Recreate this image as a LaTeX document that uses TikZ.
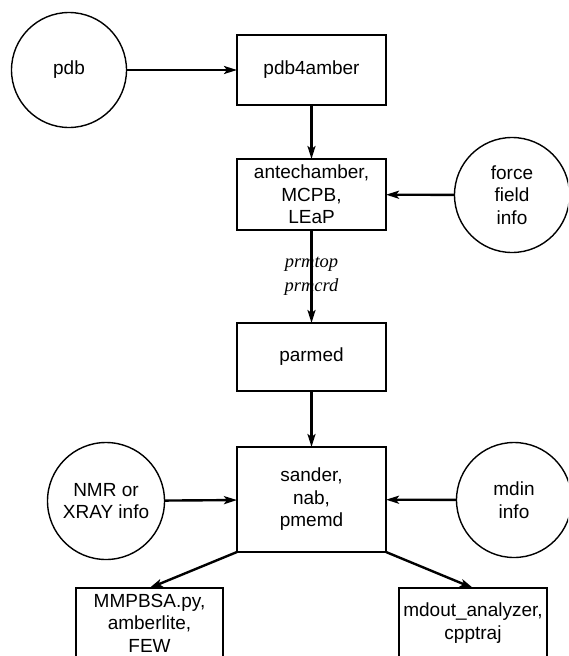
\documentclass[tikz,border=0pt]{standalone}
\usepackage{fontspec}
\setmainfont{Liberation Sans}
\newfontfamily\lblfont{Liberation Serif}
\usetikzlibrary{arrows.meta}

\begin{document}
\begin{tikzpicture}[x=1pt,y=-1pt,
  box/.style={shape=rectangle,draw=black,line width=2.8pt,minimum width=149pt,minimum height=70pt,inner sep=2pt,outer sep=0pt,align=center,font=\fontsize{19}{22.5}\selectfont},
  blob/.style={shape=circle,draw=black,line width=1.4pt,minimum size=115pt,inner sep=0pt,outer sep=0pt,align=center,font=\fontsize{19}{22.5}\selectfont},
  flow/.style={line width=2.4pt,-{Stealth[length=13pt,width=8pt,inset=3pt]}}]
\clip (0,0) rectangle (568,656);
\node[blob] (PDB) at (69,70) {pdb};
\node[box] (P4A) at (311.5,70) {pdb4amber};
\node[box,minimum height=71pt] (ANTE) at (311.5,194.5) {antechamber,\\MCPB,\\LEaP};
\node[blob] (FF) at (512,195) {force\\field\\info};
\node[box,minimum height=68pt] (PARM) at (311.5,357) {parmed};
\node[box,minimum height=105pt] (SAND) at (311.5,499.5) {sander,\\nab,\\pmemd};
\node[blob,minimum size=117pt] (NMR) at (106,501) {NMR or\\XRAY info};
\node[blob] (MDIN) at (514,500) {mdin\\info};
\node[box,minimum width=147pt] (MMPB) at (149.5,623) {MMPBSA.py,\\amberlite,\\FEW};
\node[box,minimum width=148pt] (MDOUT) at (473,623) {mdout\_analyzer,\\cpptraj};
\path [flow] (PDB) edge (P4A);
\path [flow] (P4A) edge (ANTE);
\path [flow] (FF) edge (ANTE);
\path [flow] (ANTE) edge node[font=\lblfont\itshape\fontsize{18.5}{24}\selectfont,align=center] {prmtop\\prmcrd} (PARM);
\path [flow] (PARM) edge (SAND);
\path [flow] (NMR) edge (SAND);
\path [flow] (MDIN) edge (SAND);
\path [flow] (SAND.south west) edge (MMPB.north);
\path [flow] (SAND.south east) edge (MDOUT.north);
\end{tikzpicture}
\end{document}
